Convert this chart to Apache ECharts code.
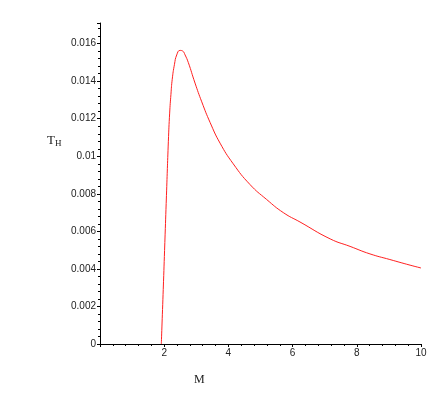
<!DOCTYPE html>
<html>
<head>
<meta charset="utf-8">
<script src="https://cdn.jsdelivr.net/npm/echarts@6/dist/echarts.min.js"></script>
<style>
  html, body { margin: 0; padding: 0; background: #fff; }
  #chart { width: 442px; height: 401px; }
</style>
</head>
<body>
<div id="chart"></div>
<script>
// values
var massM = [1.91, 1.97, 2.02, 2.07, 2.13, 2.17, 2.21, 2.25, 2.32, 2.39, 2.49, 2.58, 2.65, 2.75,
             2.96, 3.17, 3.43, 3.74, 4.15, 4.67, 5.19, 5.71, 6.23, 7.17, 7.79, 8.41, 9.03, 9.66, 10.0];
var tempTH = [0, 0.0029, 0.0054, 0.0079, 0.0108, 0.0123, 0.0133, 0.0141, 0.0149, 0.0154, 0.01564, 0.0156, 0.0154, 0.0150,
              0.0139, 0.0129, 0.0118, 0.0107, 0.0096, 0.0085, 0.0077, 0.0070, 0.0065, 0.0056, 0.0052, 0.0048, 0.0045, 0.0042, 0.00405];
var xTicks = [2, 4, 6, 8, 10];
var yTicks = [0, 0.002, 0.004, 0.006, 0.008, 0.01, 0.012, 0.014, 0.016];

var points = massM.map(function (m, i) { return [m, tempTH[i]]; });

var chart = echarts.init(document.getElementById('chart'));

var labelStyle = { color: '#222', fontSize: 10, fontFamily: 'Liberation Sans, Arial, sans-serif' };

chart.setOption({
  animation: false,
  grid: { left: 100, right: 21, top: 23, bottom: 57 },
  xAxis: {
    type: 'value',
    min: 0,
    max: 10,
    interval: 2,
    splitLine: { show: false },
    axisLine: { lineStyle: { color: '#000', width: 1 } },
    axisTick: { length: 3, lineStyle: { color: '#000' } },
    minorTick: { show: true, splitNumber: 5, length: 2, lineStyle: { color: '#000' } },
    axisLabel: Object.assign({ customValues: xTicks, margin: 4 }, labelStyle)
  },
  yAxis: {
    type: 'value',
    min: 0,
    max: 0.0171,
    interval: 0.002,
    splitLine: { show: false },
    axisLine: { lineStyle: { color: '#000', width: 1 } },
    axisTick: { length: 3, lineStyle: { color: '#000' } },
    minorTick: { show: true, splitNumber: 5, length: 2, lineStyle: { color: '#000' } },
    axisLabel: Object.assign({
      customValues: yTicks,
      margin: 4,
      formatter: function (v) { return String(+v.toFixed(4)); }
    }, labelStyle)
  },
  graphic: [
    {
      type: 'text',
      left: 47, top: 134,
      style: {
        text: '{t|T}{h|H}',
        rich: {
          t: { fontFamily: 'Liberation Serif, Times New Roman, serif', fontSize: 13, fill: '#222' },
          h: { fontFamily: 'Liberation Serif, Times New Roman, serif', fontSize: 9, fill: '#222', padding: [6, 0, 0, 0] }
        }
      }
    },
    {
      type: 'text',
      left: 194, top: 374,
      style: { text: 'M', fontFamily: 'Liberation Serif, Times New Roman, serif', fontSize: 12, fill: '#222' }
    }
  ],
  series: [{
    type: 'line',
    data: points,
    smooth: 0.5,
    showSymbol: false,
    lineStyle: { color: '#ff2020', width: 1 }
  }]
});
</script>
</body>
</html>
